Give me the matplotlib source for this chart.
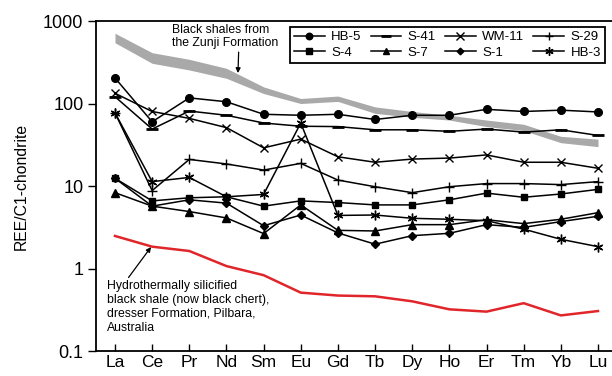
import matplotlib
matplotlib.use("Agg")
import matplotlib.pyplot as plt
import numpy as np
from matplotlib.ticker import FixedLocator, NullLocator, FixedFormatter

plt.rcParams['font.family'] = ['Liberation Sans', 'DejaVu Sans']

cats = ['La', 'Ce', 'Pr', 'Nd', 'Sm', 'Eu', 'Gd', 'Tb', 'Dy', 'Ho', 'Er', 'Tm', 'Yb', 'Lu']

HB5 = [204, 60, 117, 105, 74, 72, 74, 64, 72, 72, 85, 80, 83, 79]
S41 = [121, 49, 81, 72, 58, 53, 52.5, 48, 48, 46, 49, 45, 48, 41]
WM11 = [133, 80, 66, 51, 29, 37, 22.6, 19.4, 21.2, 21.8, 23.8, 19.4, 19.4, 16.4]
S29 = [77, 8.8, 21, 18.5, 15.6, 18.8, 11.8, 9.8, 8.3, 9.8, 10.7, 10.7, 10.4, 11.3]
S4 = [12.4, 6.6, 7.2, 7.4, 5.7, 6.6, 6.3, 5.9, 5.9, 6.8, 8.2, 7.3, 8.0, 9.1]
S7 = [8.3, 5.7, 4.9, 4.1, 2.65, 5.9, 2.9, 2.85, 3.4, 3.4, 3.9, 3.5, 3.95, 4.75]
S1 = [12.4, 5.7, 6.8, 6.2, 3.3, 4.45, 2.7, 1.97, 2.5, 2.67, 3.4, 3.15, 3.7, 4.3]
HB3 = [77, 11.3, 12.7, 7.4, 7.9, 58, 4.4, 4.45, 4.06, 3.95, 3.8, 3.0, 2.26, 1.84]

chert = [2.48, 1.84, 1.63, 1.07, 0.83, 0.51, 0.47, 0.46, 0.40, 0.32, 0.30, 0.38, 0.27, 0.305]

shale_upper = [710, 413, 343, 267, 159, 115, 123, 91, 80, 72, 63, 56, 40, 37]
shale_lower = [545, 307, 255, 202, 132, 100, 106, 76, 68, 63, 52.5, 47, 33.5, 30]

yticks = [0.1, 1, 10, 100, 1000]
ytick_labels = ['0.1', '1', '10', '100', '1000']

fig = plt.figure(figsize=(6.12, 3.76), dpi=100)
ax = fig.add_axes([96/612, 25/376, 1 - 96/612, 330/376])

x = np.arange(len(cats))

ax.fill_between(x, shale_lower, shale_upper, color='#a9a9a9', lw=0, zorder=1)
ax.plot(x, chert, color='#e0262a', lw=1.8, zorder=2)

series = [
    ('HB-5', HB5, dict(marker='o', ms=5.5)),
    ('S-41', S41, dict(marker='_', ms=8, mew=2)),
    ('WM-11', WM11, dict(marker='x', ms=6, mew=1.0)),
    ('S-29', S29, dict(marker='+', ms=7, mew=1.0)),
    ('S-4', S4, dict(marker='s', ms=5)),
    ('S-7', S7, dict(marker='^', ms=5.5)),
    ('S-1', S1, dict(marker='D', ms=4)),
    ('HB-3', HB3, dict(marker=(6, 2, 0), ms=7, mew=1.0)),
]
handles = {}
for name, vals, kw in series:
    h, = ax.plot(x, vals, color='black', lw=1.1, mfc='black', mec='black',
                 label=name, zorder=3, **kw)
    handles[name] = h

ax.set_yscale('log')
ax.set_ylim(0.1, 1000)
ax.set_xlim(-0.511, 13.377)
ax.yaxis.set_major_locator(FixedLocator(yticks))
ax.yaxis.set_major_formatter(FixedFormatter(ytick_labels))
ax.yaxis.set_minor_locator(NullLocator())
ax.set_xticks(x)
ax.set_xticklabels(cats)
ax.tick_params(axis='y', direction='out', length=6, width=1, labelsize=13, pad=3)
ax.tick_params(axis='x', direction='in', length=5, width=1, labelsize=12.5, pad=3)
for s in ['left', 'bottom', 'top']:
    ax.spines[s].set_linewidth(1.3)
ax.spines['right'].set_visible(False)
ax.set_ylabel('REE/C1-chondrite', fontsize=11.3, labelpad=10)

order = ['HB-5', 'S-4', 'S-41', 'S-7', 'WM-11', 'S-1', 'S-29', 'HB-3']
leg = ax.legend([handles[n] for n in order], order, ncol=4, loc='upper right',
                bbox_to_anchor=(0.986, 0.982), borderaxespad=0, fontsize=9.5,
                frameon=True, fancybox=False, framealpha=1, edgecolor='black',
                handlelength=2.3, handletextpad=0.5, columnspacing=0.7,
                labelspacing=0.25, borderpad=0.3, markerscale=0.85)
leg.get_frame().set_linewidth(1.3)

ax.annotate('Black shales from\nthe Zunji Formation', xy=(3.31, 234), xytext=(1.53, 920),
            ha='left', va='top', fontsize=8.8, linespacing=1.15,
            arrowprops=dict(arrowstyle='-|>', color='black', lw=0.9,
                            mutation_scale=7, shrinkA=0, shrinkB=0,
                            relpos=(0.63, 0.05)))

ax.annotate('Hydrothermally silicified\nblack shale (now black chert),\ndresser Formation, Pilbara,\nAustralia',
            xy=(0.97, 1.82), xytext=(-0.215, 0.72),
            ha='left', va='top', fontsize=8.8, linespacing=1.2,
            arrowprops=dict(arrowstyle='-|>', color='black', lw=0.9,
                            mutation_scale=7, shrinkA=0, shrinkB=0,
                            relpos=(0.12, 1.0)))

fig.savefig('out.png', dpi=100)
